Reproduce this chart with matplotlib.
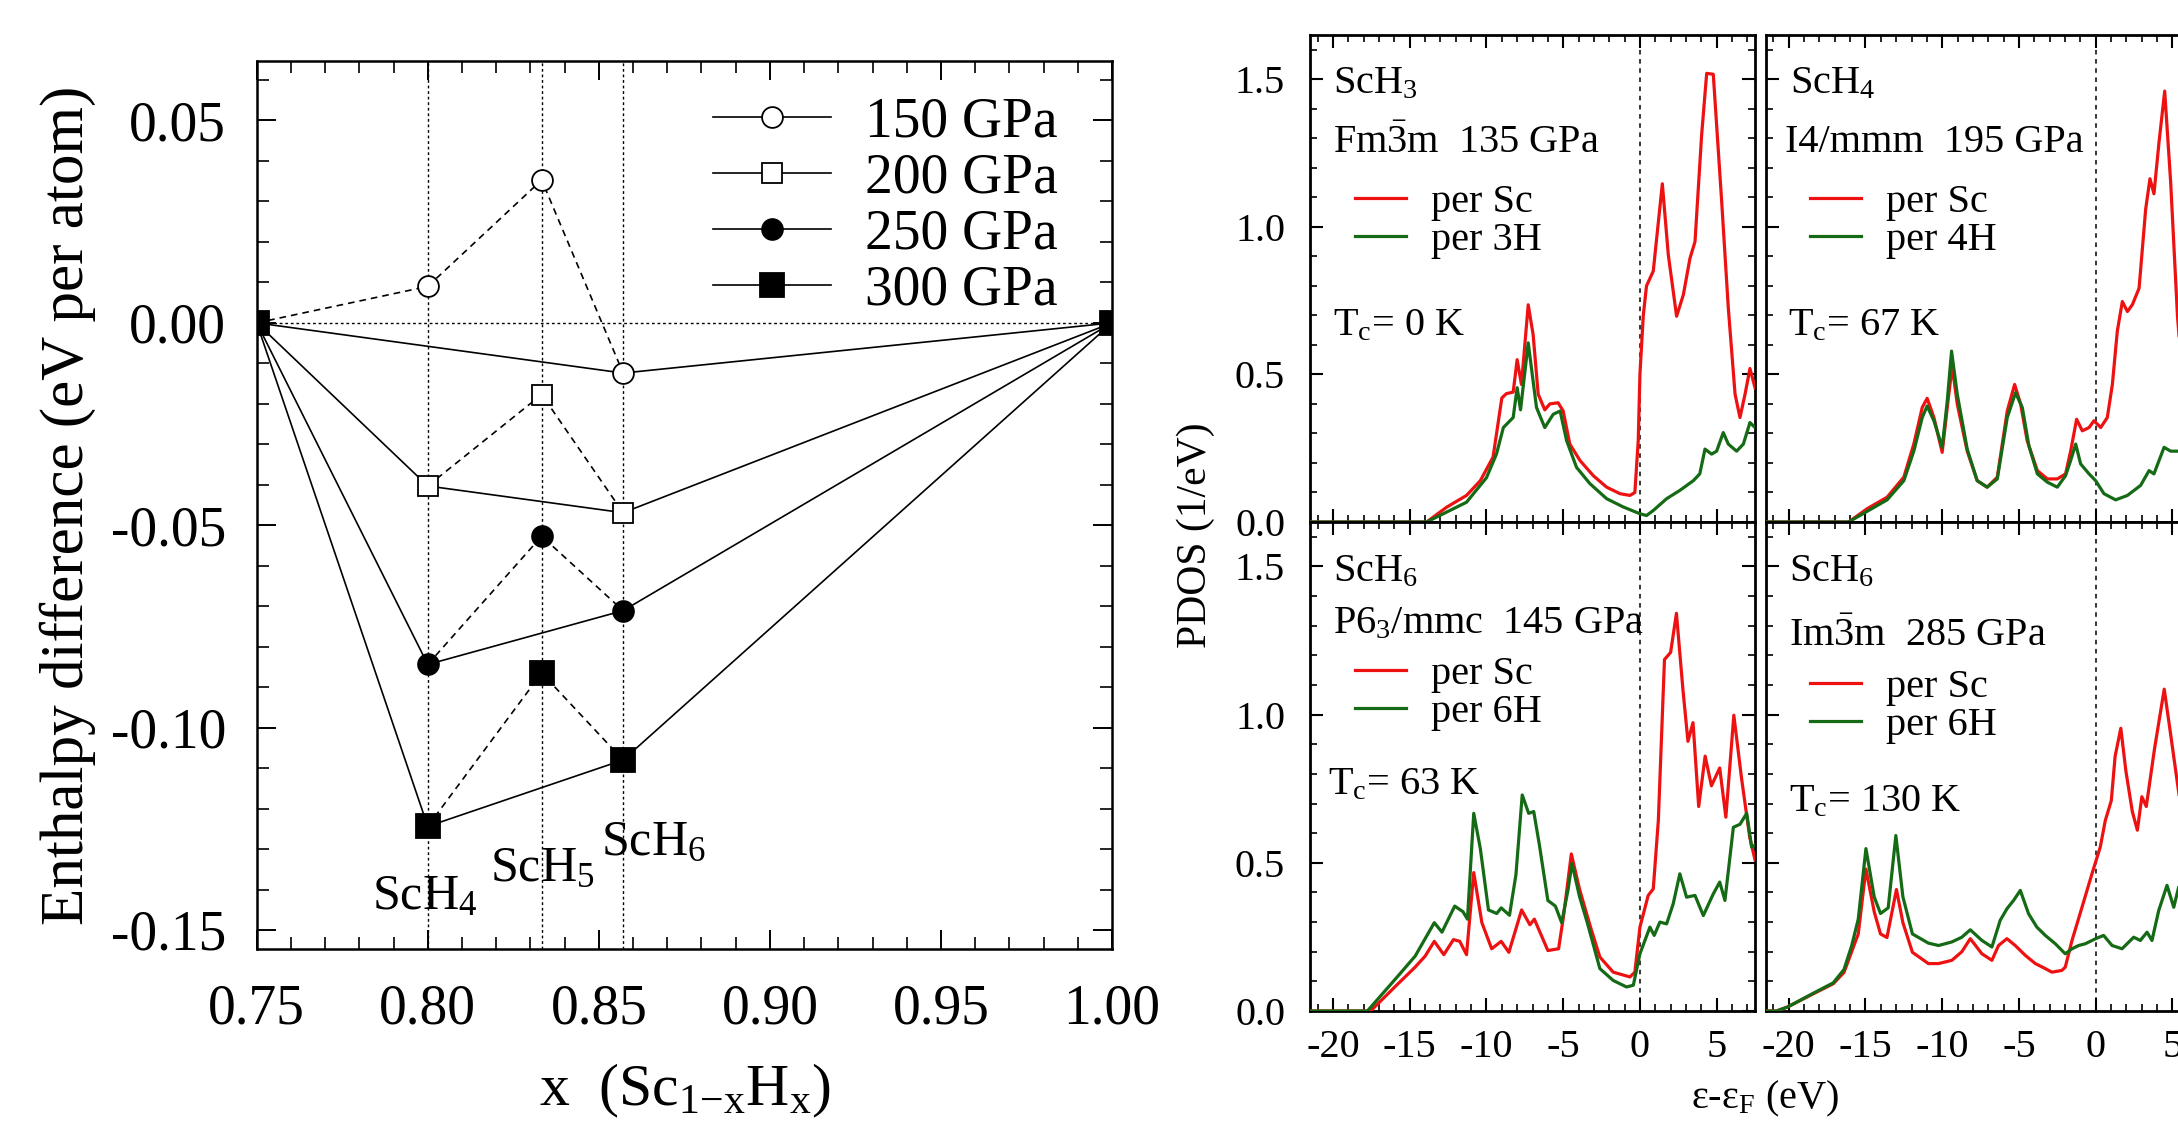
import matplotlib
matplotlib.use('Agg')
from matplotlib import pyplot as plt
from matplotlib.lines import Line2D
from matplotlib.ticker import MultipleLocator, FormatStrFormatter

plt.rcParams['font.family'] = ['Liberation Serif', 'DejaVu Serif']
plt.rcParams['mathtext.fontset'] = 'custom'
plt.rcParams['mathtext.rm'] = 'Liberation Serif'
plt.rcParams['mathtext.it'] = 'Liberation Serif:italic'
plt.rcParams['axes.unicode_minus'] = False

RED = '#ee1111'
GREEN = '#156b15'

# ---------------- enthalpy of formation (left panel)
x_comp = [0.75, 0.80, 0.8333, 0.8571, 1.00]
comp_names = ['ScH$_4$', 'ScH$_5$', 'ScH$_6$']
pressures = ['150 GPa', '200 GPa', '250 GPa', '300 GPa']
dh_150 = [0.0, 0.0090, 0.0353, -0.0124, 0.0]
dh_200 = [0.0, -0.0403, -0.0177, -0.0469, 0.0]
dh_250 = [0.0, -0.0844, -0.0527, -0.0711, 0.0]
dh_300 = [0.0, -0.1244, -0.0865, -0.1080, 0.0]
# indices joined by the solid (hull) line and by the dashed line
hull_idx = [[0, 3, 4], [0, 1, 3, 4], [0, 1, 3, 4], [0, 1, 3, 4]]
dash_idx = [[0, 1, 2, 3], [1, 2, 3], [1, 2, 3], [1, 2, 3]]

# ---------------- PDOS (right panels)
sch3_e_sc = [-21.5, -13.9, -12.6, -11.3, -10.4, -9.57, -9.0, -8.7, -8.26, -8.0, -7.72, -7.28, -6.96, -6.63,
             -6.2, -5.87, -5.33, -5.0, -4.57, -3.9, -3.04, -2.17, -1.3, -0.65, -0.33, -0.11, 0.0, 0.22, 0.43,
             0.87, 1.46, 1.85, 2.39, 2.83, 3.26, 3.59, 4.02, 4.35, 4.78, 5.33, 5.76, 6.2, 6.52, 6.85, 7.17, 7.5]
sch3_pdos_sc = [0, 0, 0.05, 0.09, 0.14, 0.22, 0.42, 0.435, 0.44, 0.55, 0.466, 0.736, 0.635, 0.433,
                0.38, 0.40, 0.404, 0.376, 0.264, 0.208, 0.157, 0.118, 0.096, 0.09, 0.10, 0.275, 0.5, 0.70, 0.80,
                0.85, 1.146, 0.905, 0.697, 0.77, 0.893, 0.95, 1.31, 1.52, 1.517, 1.084, 0.725, 0.433, 0.354,
                0.433, 0.52, 0.455]
sch3_e_h = [-21.5, -13.9, -11.3, -10.0, -9.35, -8.9, -8.26, -8.0, -7.78, -7.28, -6.74, -6.2, -5.65, -5.2,
            -4.78, -4.13, -3.26, -2.17, -1.09, 0.0, 0.43, 0.87, 1.74, 2.6, 3.48, 3.9, 4.24, 4.67, 5.0, 5.43,
            5.76, 6.3, 6.74, 7.17, 7.5]
sch3_pdos_h = [0, 0, 0.067, 0.15, 0.23, 0.32, 0.354, 0.455, 0.38, 0.607, 0.388, 0.32, 0.365, 0.376,
               0.276, 0.185, 0.13, 0.079, 0.051, 0.028, 0.022, 0.039, 0.079, 0.107, 0.14, 0.163, 0.247, 0.23,
               0.24, 0.303, 0.264, 0.24, 0.264, 0.337, 0.32]

sch4_e_sc = [-21.5, -16.1, -14.89, -13.59, -12.5, -11.85, -11.3, -10.98, -10.54, -10.0, -9.67, -9.35, -9.02,
             -8.37, -7.72, -7.07, -6.41, -5.76, -5.28, -4.89, -4.46, -3.80, -3.15, -2.5, -1.96, -1.63, -1.24,
             -0.87, -0.43, -0.11, 0.33, 0.76, 1.09, 1.41, 1.74, 2.07, 2.39, 2.83, 3.26, 3.54, 3.80, 4.13, 4.5,
             4.89, 5.33, 5.7]
sch4_pdos_sc = [0, 0, 0.045, 0.084, 0.152, 0.264, 0.388, 0.419, 0.354, 0.236, 0.388, 0.528, 0.40,
                0.24, 0.14, 0.118, 0.152, 0.376, 0.466, 0.40, 0.275, 0.174, 0.146, 0.146, 0.163, 0.24, 0.348,
                0.309, 0.32, 0.343, 0.32, 0.354, 0.466, 0.646, 0.747, 0.713, 0.736, 0.792, 1.06, 1.163, 1.112,
                1.287, 1.46, 1.15, 0.70, 0.45]
sch4_e_h = [-21.5, -16.1, -13.59, -12.5, -11.85, -11.3, -10.98, -10.54, -10.0, -9.67, -9.39, -9.02, -8.37,
            -7.72, -7.07, -6.41, -5.76, -5.22, -4.78, -4.35, -3.80, -3.15, -2.5, -1.96, -1.63, -1.30, -0.98,
            -0.43, 0.0, 0.54, 1.30, 2.07, 2.93, 3.48, 3.80, 4.46, 4.89, 5.7]
sch4_pdos_h = [0, 0, 0.075, 0.14, 0.24, 0.354, 0.393, 0.343, 0.253, 0.41, 0.579, 0.433, 0.247,
               0.14, 0.118, 0.146, 0.354, 0.438, 0.388, 0.258, 0.163, 0.135, 0.118, 0.157, 0.208, 0.264, 0.197,
               0.163, 0.14, 0.096, 0.075, 0.09, 0.124, 0.174, 0.163, 0.253, 0.24, 0.24]

p63_e_sc = [-21.5, -17.55, -15.9, -14.65, -14.0, -13.4, -12.78, -12.15, -11.74, -11.3, -10.83, -10.3, -9.66,
            -9.04, -8.54, -7.71, -7.17, -6.88, -6.0, -5.3, -4.97, -4.47, -3.93, -3.23, -2.61, -1.74, -0.65,
            -0.33, 0.0, 0.54, 0.87, 1.2, 1.6, 2.0, 2.38, 2.8, 3.13, 3.46, 3.83, 4.25, 4.66, 5.2, 5.6, 6.12,
            6.62, 7.16, 7.5]
p63_pdos_sc = [0, 0, 0.085, 0.148, 0.185, 0.235, 0.19, 0.241, 0.235, 0.19, 0.467, 0.298, 0.21,
               0.235, 0.198, 0.341, 0.291, 0.31, 0.204, 0.21, 0.323, 0.53, 0.41, 0.285, 0.182, 0.131, 0.115,
               0.131, 0.283, 0.39, 0.412, 0.643, 1.186, 1.21, 1.342, 1.086, 0.91, 0.973, 0.69, 0.86, 0.76,
               0.82, 0.654, 0.998, 0.786, 0.585, 0.51]
p63_e_h = [-21.5, -17.76, -15.9, -14.65, -13.82, -13.4, -12.9, -12.07, -11.53, -11.24, -10.83, -10.4, -9.87,
           -9.33, -9.04, -8.5, -8.08, -7.67, -7.25, -6.92, -6.55, -6.0, -5.51, -5.1, -4.68, -4.43, -3.93,
           -3.43, -2.61, -1.74, -0.87, -0.43, 0.0, 0.65, 0.93, 1.3, 1.74, 2.17, 2.6, 3.04, 3.59, 4.13, 4.78,
           5.2, 5.54, 6.09, 6.52, 6.96, 7.28, 7.5]
p63_pdos_h = [0, 0, 0.11, 0.185, 0.26, 0.298, 0.266, 0.354, 0.335, 0.31, 0.667, 0.548, 0.341,
              0.329, 0.348, 0.323, 0.46, 0.729, 0.667, 0.673, 0.56, 0.373, 0.354, 0.298, 0.41, 0.498, 0.385,
              0.298, 0.143, 0.103, 0.081, 0.087, 0.193, 0.283, 0.255, 0.30, 0.294, 0.362, 0.463, 0.384, 0.39,
              0.322, 0.395, 0.435, 0.373, 0.62, 0.63, 0.667, 0.553, 0.56]

im3m_e_sc = [-21.5, -20.8, -20.1, -18.4, -17.1, -16.4, -15.9, -15.47, -14.97, -14.43, -14.02, -13.6, -12.98,
             -12.56, -11.94, -10.9, -10.24, -9.37, -8.72, -8.17, -7.41, -6.76, -6.33, -5.78, -5.24, -4.59,
             -3.93, -3.28, -2.85, -2.2, -1.98, -1.54, -0.89, -0.24, 0.3, 0.63, 1.02, 1.27, 1.64, 1.97, 2.39,
             2.72, 3.01, 3.3, 3.84, 4.47, 4.88, 5.42, 5.8]
im3m_pdos_sc = [0, 0, 0.013, 0.058, 0.092, 0.13, 0.20, 0.26, 0.479, 0.335, 0.26, 0.248, 0.41,
                0.298, 0.198, 0.16, 0.16, 0.171, 0.2, 0.244, 0.193, 0.171, 0.221, 0.244, 0.221, 0.188,
                0.16, 0.143, 0.131, 0.137, 0.148, 0.238, 0.35, 0.463, 0.553, 0.643, 0.71, 0.86, 0.954, 0.81, 0.673,
                0.61, 0.723, 0.69, 0.886, 1.086, 0.936, 0.735, 0.6]
im3m_e_h = [-21.5, -20.8, -20.1, -18.4, -17.1, -16.4, -15.9, -15.47, -14.97, -14.43, -14.02, -13.52, -13.02,
            -12.56, -11.94, -10.9, -10.24, -9.37, -8.72, -8.17, -7.41, -6.76, -6.22, -5.78, -5.35, -4.91,
            -4.37, -3.83, -3.28, -2.63, -1.98, -1.54, -1.11, -0.67, 0.0, 0.52, 1.07, 1.72, 2.48, 2.91, 3.35,
            3.67, 4.11, 4.65, 5.09, 5.41, 5.8]
im3m_pdos_h = [0, 0, 0.013, 0.06, 0.095, 0.14, 0.22, 0.31, 0.548, 0.385, 0.329, 0.348, 0.592,
               0.385, 0.26, 0.229, 0.221, 0.233, 0.249, 0.274, 0.238, 0.216, 0.306, 0.345, 0.373, 0.407,
               0.328, 0.283, 0.255, 0.227, 0.193, 0.21, 0.221, 0.227, 0.244, 0.255, 0.221, 0.21, 0.249, 0.238,
               0.266, 0.238, 0.339, 0.424, 0.35, 0.418, 0.44]


def plot_enthalpy(ax):
    series = [dh_150, dh_200, dh_250, dh_300]
    markers = [('o', 'white', 15), ('s', 'white', 15), ('o', 'black', 15), ('s', 'black', 17)]
    handles = []
    for k, dh in enumerate(series):
        m, fc, ms = markers[k]
        ax.plot([x_comp[i] for i in dash_idx[k]], [dh[i] for i in dash_idx[k]],
                color='k', lw=1.2, ls=(0, (4, 3)), zorder=2)
        ax.plot([x_comp[i] for i in hull_idx[k]], [dh[i] for i in hull_idx[k]],
                color='k', lw=1.2, zorder=2)
        ax.plot(x_comp, dh, ls='none', marker=m, mfc=fc, mec='k', mew=1.3, ms=ms, zorder=3)
        handles.append(Line2D([], [], color='k', lw=1.2, marker=m, mfc=fc, mec='k', mew=1.3, ms=ms))

    for xc in x_comp[1:4]:
        ax.axvline(xc, color='k', lw=1.0, ls=(0, (2, 2)), zorder=1)
    ax.axhline(0.0, color='k', lw=1.0, ls=(0, (2, 2)), zorder=1)

    name_pos = [(0.799, -0.1448), (0.8335, -0.1380), (0.866, -0.1315)]
    for name, (xt, yt) in zip(comp_names, name_pos):
        ax.text(xt, yt, name, fontsize=36, ha='center', va='baseline')

    ax.legend(handles, pressures, loc='upper left', bbox_to_anchor=(0.534, 0.96), frameon=False,
              fontsize=40, handlelength=2.12, handletextpad=0.6, labelspacing=0.07,
              borderpad=0, borderaxespad=0)

    ax.set_xlim(0.75, 1.0)
    ax.set_ylim(-0.1547, 0.0647)
    ax.xaxis.set_major_locator(MultipleLocator(0.05))
    ax.xaxis.set_minor_locator(MultipleLocator(0.01))
    ax.yaxis.set_major_locator(MultipleLocator(0.05))
    ax.yaxis.set_minor_locator(MultipleLocator(0.01))
    ax.xaxis.set_major_formatter(FormatStrFormatter('%.2f'))
    ax.yaxis.set_major_formatter(FormatStrFormatter('%.2f'))
    ax.tick_params(which='both', direction='in', top=True, right=True, labelsize=40)
    ax.tick_params(which='major', length=14, width=1.4)
    ax.tick_params(which='minor', length=8.5, width=1.2)
    ax.tick_params(axis='x', which='major', pad=25)
    ax.tick_params(axis='y', which='major', pad=22)
    for s in ax.spines.values():
        s.set_linewidth(1.8)


def plot_pdos(ax, e_sc, p_sc, e_h, p_h, h_label, texts, leg_xy, xlabels, ylabels):
    ax.plot(e_sc, p_sc, color=RED, lw=2.3, label='per Sc', zorder=3)
    ax.plot(e_h, p_h, color=GREEN, lw=2.3, label=h_label, zorder=3)
    ax.axvline(0.0, color='k', lw=1.1, ls=(0, (3, 3)), zorder=1)
    for (xt, yt, s) in texts:
        ax.text(xt, yt, s, transform=ax.transAxes, fontsize=29, ha='left', va='baseline')
    ax.legend(loc='upper left', bbox_to_anchor=leg_xy, frameon=False, fontsize=29,
              handlelength=1.27, handletextpad=0.62, labelspacing=0.02,
              borderpad=0, borderaxespad=0)
    ax.set_xlim(-21.5, 7.5)
    ax.set_ylim(0.0, 1.65)
    ax.xaxis.set_major_locator(MultipleLocator(5))
    ax.xaxis.set_minor_locator(MultipleLocator(1))
    ax.yaxis.set_major_locator(MultipleLocator(0.5))
    ax.yaxis.set_minor_locator(MultipleLocator(0.1))
    ax.yaxis.set_major_formatter(FormatStrFormatter('%.1f'))
    ax.tick_params(which='both', direction='in', top=True, right=True, labelsize=29,
                   labelbottom=xlabels, labelleft=ylabels)
    ax.tick_params(which='major', length=9.5, width=1.5)
    ax.tick_params(which='minor', length=5, width=1.2)
    ax.tick_params(axis='x', which='major', pad=13)
    ax.tick_params(axis='y', which='major', pad=18)
    for s in ax.spines.values():
        s.set_linewidth(2.0)


fig = plt.figure(figsize=(21.78, 11.22), dpi=100)

ax_h = fig.add_axes([0.11786, 0.15419, 0.39270, 0.79144])
plot_enthalpy(ax_h)
fig.text(0.0312, 0.55, 'Enthalpy difference (eV per atom)', rotation=90, fontsize=44,
         ha='center', va='center')
fig.text(0.3143, 0.0146, r'x  (Sc$_\mathrm{1{-}x}$H$_\mathrm{x}$)', fontsize=43, ha='center', va='baseline')

x_left, x_right, w = 0.60147, 0.81071, 0.20432
y_bot, y_top, h_bot, h_top = 0.09893, 0.53476, 0.43583, 0.43405

ax1 = fig.add_axes([x_left, y_top, w, h_top])
plot_pdos(ax1, sch3_e_sc, sch3_pdos_sc, sch3_e_h, sch3_pdos_h, 'per 3H',
          [(0.052, 0.880, 'ScH$_3$'), (0.052, 0.757, r'Fm$\bar{3}$m  135 GPa'),
           (0.052, 0.384, r'T$_\mathrm{c}$= 0 K')], (0.101, 0.695), False, True)

ax2 = fig.add_axes([x_right, y_top, w, h_top])
plot_pdos(ax2, sch4_e_sc, sch4_pdos_sc, sch4_e_h, sch4_pdos_h, 'per 4H',
          [(0.054, 0.880, 'ScH$_4$'), (0.043, 0.760, 'I4/mmm  195 GPa'),
           (0.051, 0.384, r'T$_\mathrm{c}$= 67 K')], (0.10, 0.695), False, False)

ax3 = fig.add_axes([x_left, y_bot, w, h_bot])
plot_pdos(ax3, p63_e_sc, p63_pdos_sc, p63_e_h, p63_pdos_h, 'per 6H',
          [(0.051, 0.878, 'ScH$_6$'), (0.051, 0.773, r'P6$_3$/mmc  145 GPa'),
           (0.040, 0.443, r'T$_\mathrm{c}$= 63 K')], (0.101, 0.726), True, True)

ax4 = fig.add_axes([x_right, y_bot, w, h_bot])
plot_pdos(ax4, im3m_e_sc, im3m_pdos_sc, im3m_e_h, im3m_pdos_h, 'per 6H',
          [(0.052, 0.878, 'ScH$_6$'), (0.052, 0.747, r'Im$\bar{3}$m  285 GPa'),
           (0.052, 0.409, r'T$_\mathrm{c}$= 130 K')], (0.0995, 0.70), True, False)

fig.text(0.549, 0.523, 'PDOS (1/eV)', rotation=90, fontsize=30, ha='center', va='center')
fig.text(0.8104, 0.0125, r'ε-ε$_\mathrm{F}$ (eV)', fontsize=29, ha='center', va='baseline')

fig.savefig('out.png', dpi=100)
plt.close(fig)
